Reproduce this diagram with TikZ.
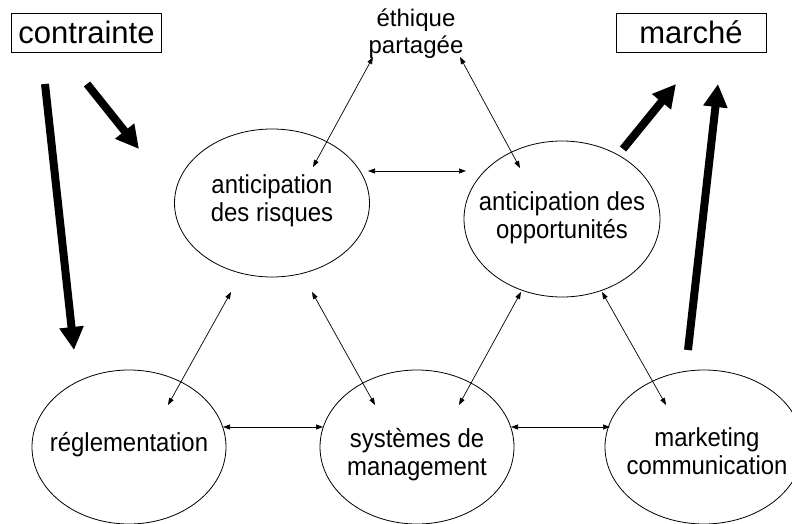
\documentclass[tikz,border=0pt]{standalone}
\usepackage{fontspec}
\setmainfont{Liberation Sans}
\newfontfamily\ovalfont{Liberation Sans}[FakeStretch=0.92]
\usetikzlibrary{arrows.meta,shapes.geometric}
\begin{document}
\begin{tikzpicture}[x=1pt,y=-1pt,
  oval/.style={draw,ellipse,line width=0.8pt,inner sep=0pt},
  lbl/.style={align=center,inner sep=0pt,font=\ovalfont\fontsize{26}{28}\selectfont},
  tag/.style={draw,line width=0.8pt,inner sep=0pt,minimum width=150pt,minimum height=39pt,font=\fontsize{31}{35}\selectfont},
  link/.style={line width=0.7pt,{Triangle[length=7pt,width=5pt]}-{Triangle[length=7pt,width=5pt]}},
  bigarrow/.style={line width=8pt,-{Triangle[length=23pt,width=23pt]}}]
\useasboundingbox (0,0) rectangle (792,524);
\clip (0,0) rectangle (792,524);

% boxes and free text
\node[tag] (contrainte) at (86.5,32.5) {contrainte};
\node[tag] (marche) at (691,32.5) {marché};
\node[align=center,inner sep=0pt,font=\fontsize{24}{27}\selectfont] (ethique) at (416,34) {éthique\\partagée};

% ellipses
\node[oval,minimum width=195pt,minimum height=148pt] (risques) at (272,203) {};
\node[oval,minimum width=196pt,minimum height=156pt] (opport) at (562,219) {};
\node[oval,minimum width=194pt,minimum height=154pt] (regl) at (129,447) {};
\node[oval,minimum width=194pt,minimum height=154pt] (sysm) at (417,447) {};
\node[oval,minimum width=198pt,minimum height=154pt] (mkt) at (704,447) {};

% ellipse texts
\node[lbl] (risquesT) at (272,200.5) {anticipation\\des risques};
\node[lbl] (opportT) at (562,217.5) {anticipation des\\opportunités};
\node[lbl] (reglT) at (129,444.5) {réglementation};
\node[lbl] (sysmT) at (417,455) {systèmes de\\management};
\node[lbl] (mktT) at (707,451) {marketing\\communication};

% connector end points
\coordinate (e1) at (373,57);   \coordinate (r1) at (313,167);
\coordinate (e2) at (460,57);   \coordinate (o1) at (520,168);
\coordinate (r2) at (368,171);  \coordinate (o2) at (466,171);
\coordinate (r3) at (231,292);  \coordinate (g1) at (168,405);
\coordinate (r4) at (312,292);  \coordinate (s1) at (375,405);
\coordinate (o3) at (521,292);  \coordinate (s2) at (459,405);
\coordinate (o4) at (602,292);  \coordinate (m1) at (666,405);
\coordinate (g2) at (223,427);  \coordinate (s3) at (323,427);
\coordinate (s4) at (511,427);  \coordinate (m2) at (610,427);

\draw[link] (e1) -- (r1);
\draw[link] (e2) -- (o1);
\draw[link] (r2) -- (o2);
\draw[link] (r3) -- (g1);
\draw[link] (r4) -- (s1);
\draw[link] (o3) -- (s2);
\draw[link] (o4) -- (m1);
\draw[link] (g2) -- (s3);
\draw[link] (s4) -- (m2);

% thick arrows
\coordinate (a1) at (87,84);   \coordinate (a1t) at (139,149);
\coordinate (a2) at (45,84);   \coordinate (a2t) at (74,350);
\coordinate (a3) at (623,149); \coordinate (a3t) at (676,84);
\coordinate (a4) at (688,350); \coordinate (a4t) at (718,84);
\draw[bigarrow] (a1) -- (a1t);
\draw[bigarrow] (a2) -- (a2t);
\draw[bigarrow] (a3) -- (a3t);
\draw[bigarrow] (a4) -- (a4t);
\end{tikzpicture}
\end{document}
